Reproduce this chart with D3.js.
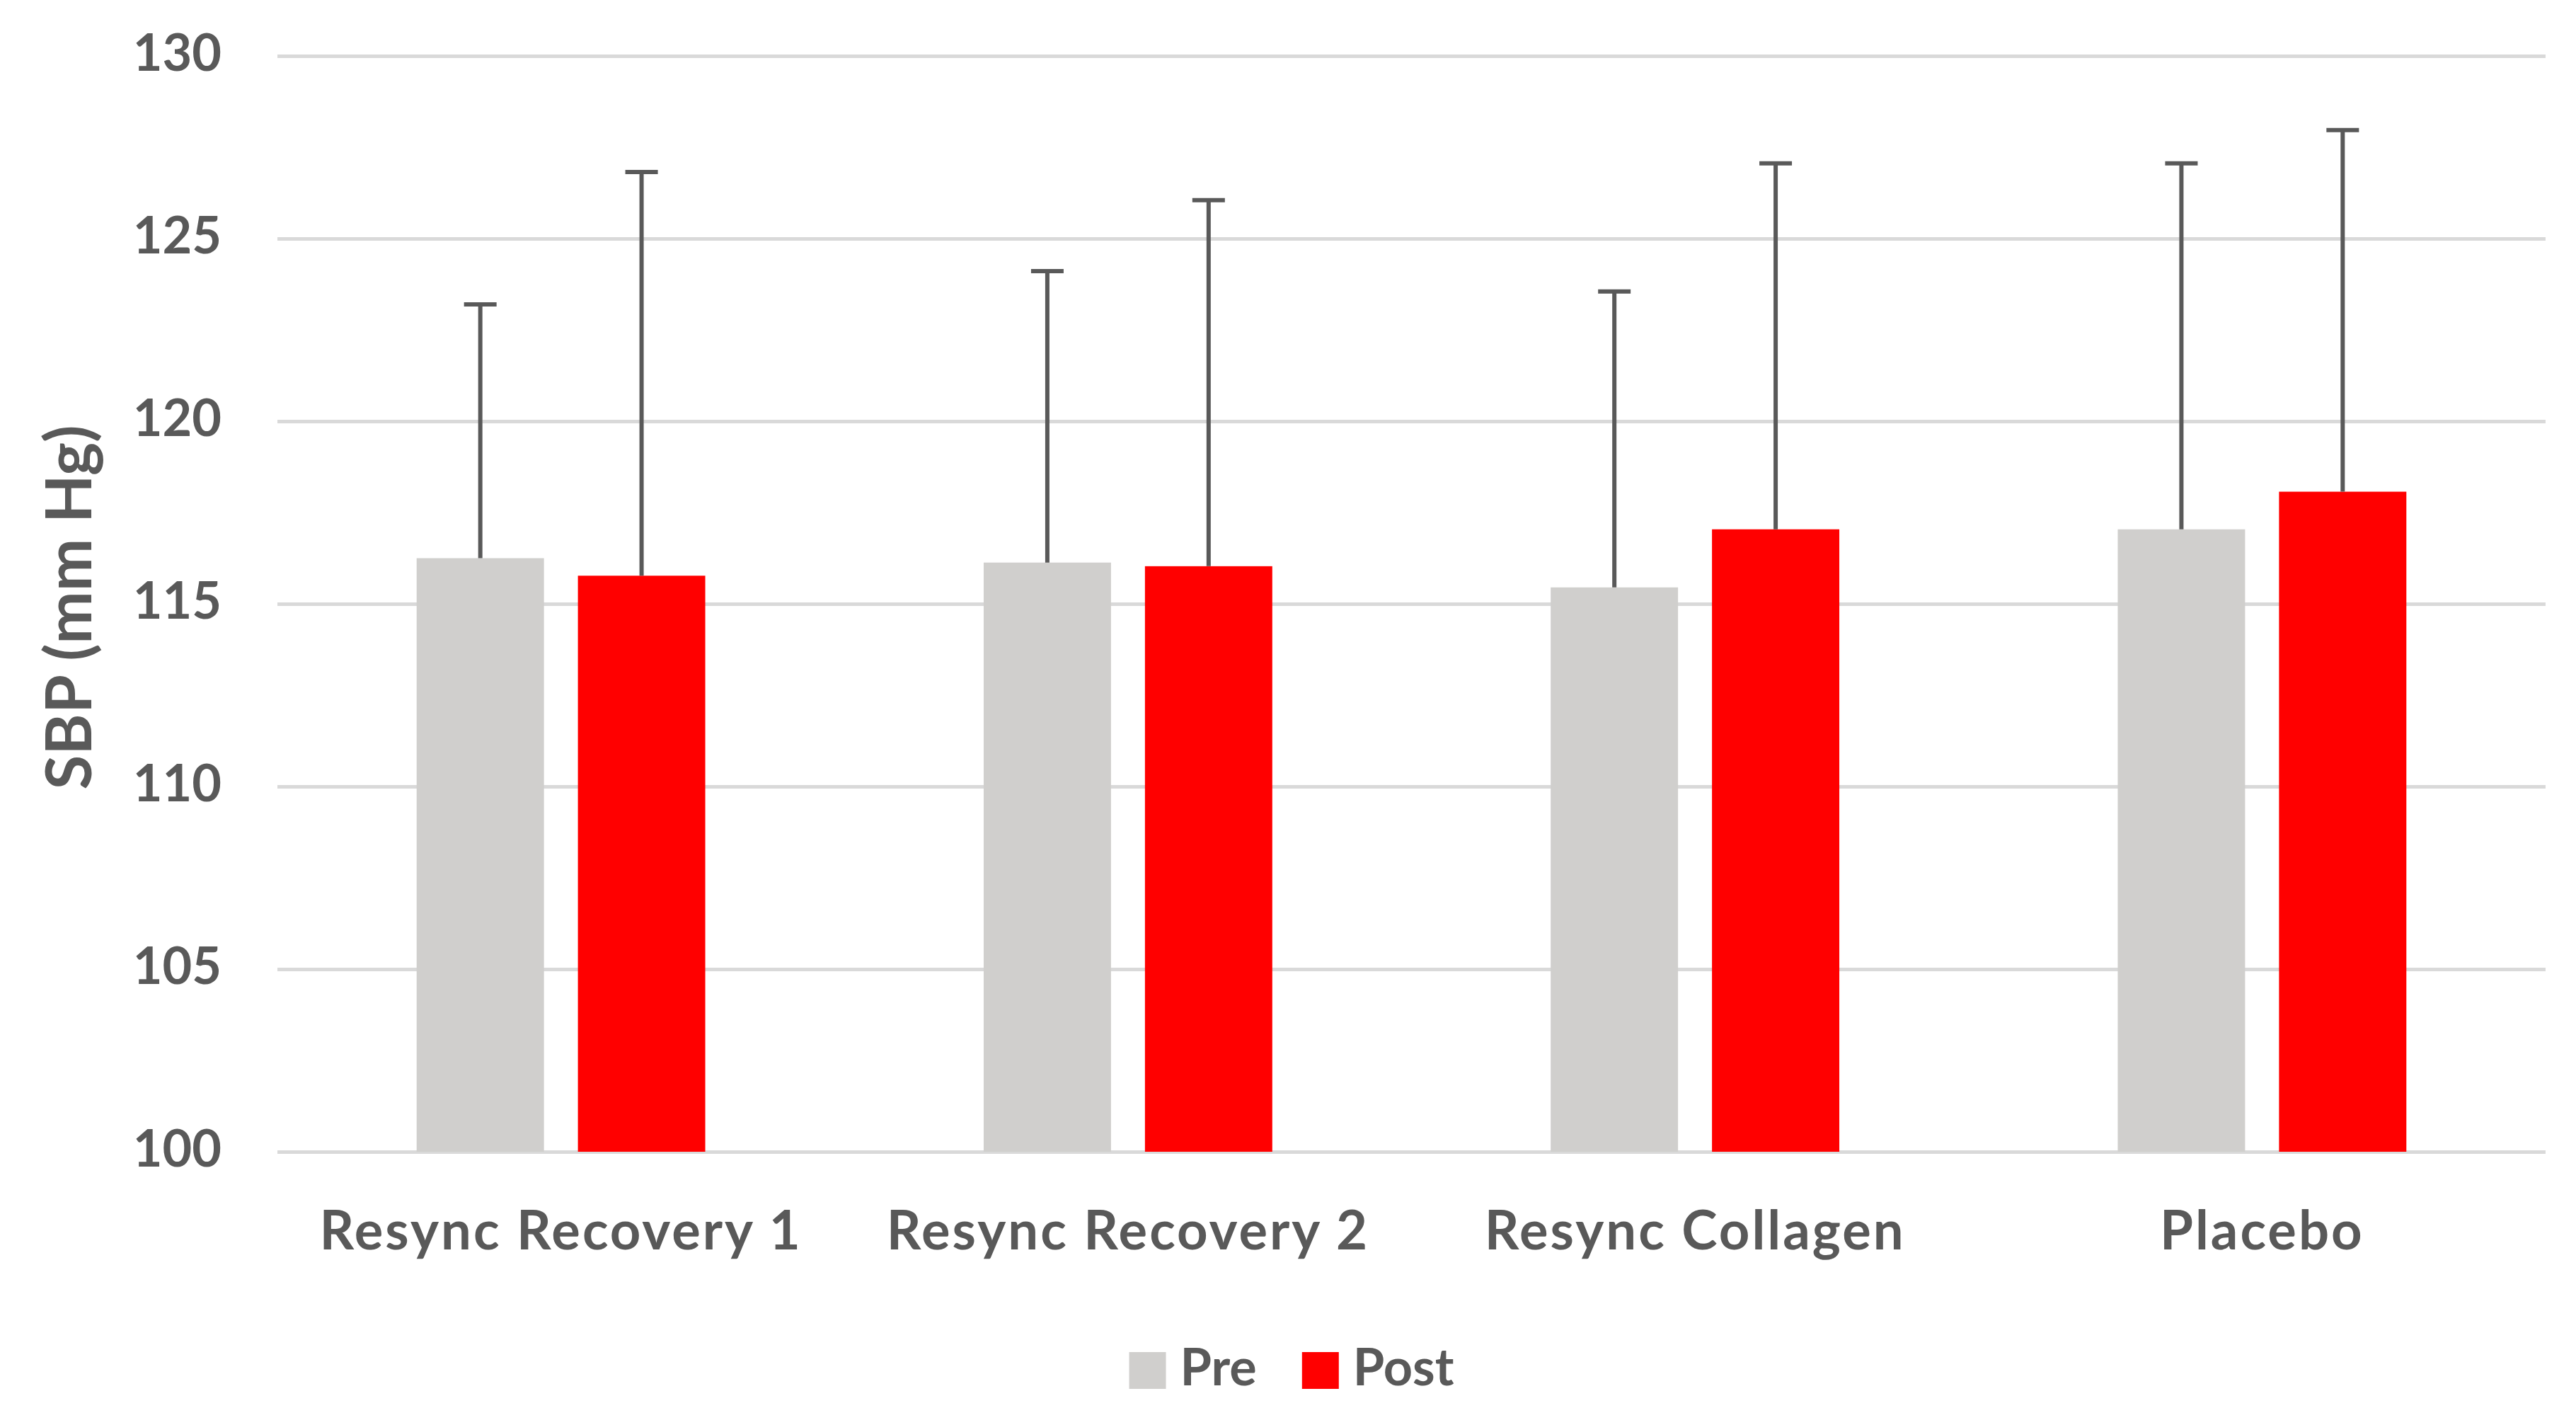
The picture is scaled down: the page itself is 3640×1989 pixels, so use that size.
<!DOCTYPE html>
<html>
<head>
<meta charset="utf-8">
<script src="https://cdn.jsdelivr.net/npm/d3@7/dist/d3.min.js"></script>
<style>
  html, body { margin: 0; padding: 0; background: #ffffff; }
  svg { display: block; }
  text { font-family: Lato, "Open Sans", "Liberation Sans", sans-serif; font-weight: 700; fill: #595959; }
</style>
</head>
<body>
<svg id="chart" width="3640" height="1989"></svg>
<script>
// ---- data ----
const categories = ["Resync Recovery 1", "Resync Recovery 2", "Resync Collagen", "Placebo"];
const seriesNames = ["Pre", "Post"];
const preValues  = [116.25, 116.13, 115.45, 117.04];
const postValues = [115.77, 116.03, 117.04, 118.07];
const preSD  = [6.95, 7.98, 8.10, 10.02];
const postSD = [11.05, 10.02, 10.02, 9.90];
const yTicks = [100, 105, 110, 115, 120, 125, 130];
const yTitle = "SBP (mm Hg)";

// ---- layout ----
const W = 3640, H = 1989;
const plot = { left: 392, right: 3597, top: 79, bottom: 1627 };
const colors = { Pre: "#d0cfcd", Post: "#ff0000" };
const textColor = "#595959";

const svg = d3.select("#chart");

const y = d3.scaleLinear().domain([100, 130]).range([plot.bottom, plot.top]);
const x0 = d3.scaleBand().domain(categories).range([plot.left, plot.right])
  .paddingInner(0.491).paddingOuter(0.2455);
const x1 = d3.scaleBand().domain(seriesNames).range([0, x0.bandwidth()])
  .paddingInner(0.2105).paddingOuter(0);

// gridlines + y tick labels
const yAxis = d3.axisLeft(y).tickValues(yTicks)
  .tickSizeInner(-(plot.right - plot.left)).tickSizeOuter(0).tickPadding(79)
  .tickFormat(d3.format("d"));
const gy = svg.append("g").attr("transform", `translate(${plot.left},0)`).call(yAxis);
gy.select(".domain").remove();
gy.selectAll(".tick line").attr("stroke", "#d9d9d9").attr("stroke-width", 5);
gy.selectAll(".tick text")
  .attr("dy", "0.29em")
  .style("font-size", "72px").attr("fill", textColor);

// data rows
const rows = categories.map((c, i) => ({
  cat: c,
  vals: [
    { s: "Pre", v: preValues[i], sd: preSD[i] },
    { s: "Post", v: postValues[i], sd: postSD[i] }
  ]
}));

const groups = svg.append("g").selectAll("g").data(rows).join("g")
  .attr("transform", d => `translate(${x0(d.cat)},0)`);

groups.selectAll("rect").data(d => d.vals).join("rect")
  .attr("x", d => x1(d.s))
  .attr("width", x1.bandwidth())
  .attr("y", d => y(d.v))
  .attr("height", d => y(100) - y(d.v))
  .attr("fill", d => colors[d.s]);

// error bars (plus direction)
const capW = 46;
const eb = groups.selectAll("g.eb").data(d => d.vals).join("g").attr("class", "eb");
eb.append("line")
  .attr("x1", d => x1(d.s) + x1.bandwidth() / 2)
  .attr("x2", d => x1(d.s) + x1.bandwidth() / 2)
  .attr("y1", d => y(d.v))
  .attr("y2", d => y(d.v + d.sd))
  .attr("stroke", "#595959").attr("stroke-width", 6);
eb.append("line")
  .attr("x1", d => x1(d.s) + x1.bandwidth() / 2 - capW / 2)
  .attr("x2", d => x1(d.s) + x1.bandwidth() / 2 + capW / 2)
  .attr("y1", d => y(d.v + d.sd))
  .attr("y2", d => y(d.v + d.sd))
  .attr("stroke", "#595959").attr("stroke-width", 6);

// category labels
const xAxis = d3.axisBottom(x0).tickSize(0).tickPadding(0);
const gx = svg.append("g").attr("transform", `translate(0,${plot.bottom})`).call(xAxis);
gx.select(".domain").remove();
gx.selectAll(".tick text")
  .attr("y", 138).attr("dy", null)
  .style("font-size", "76px").style("letter-spacing", "3px").attr("fill", textColor);

// y title
svg.append("text")
  .attr("transform", `translate(129,858) rotate(-90)`)
  .attr("text-anchor", "middle")
  .style("font-size", "89px")
  .text(yTitle);

// legend
const legend = svg.append("g");
const sq = 52, gapSq = 20, gapItem = 64, legY = 1957;
let cursor = 0;
seriesNames.forEach((s, i) => {
  const g = legend.append("g");
  g.append("rect").attr("x", cursor).attr("y", legY - 47).attr("width", sq).attr("height", sq)
    .attr("fill", colors[s]);
  const t = g.append("text").attr("x", cursor + sq + gapSq).attr("y", legY)
    .style("font-size", "72px").text(s);
  const tw = t.node().getComputedTextLength();
  cursor += sq + gapSq + tw + (i < seriesNames.length - 1 ? gapItem : 0);
});
legend.attr("transform", `translate(${1825 - cursor / 2},0)`);
</script>
</body>
</html>
